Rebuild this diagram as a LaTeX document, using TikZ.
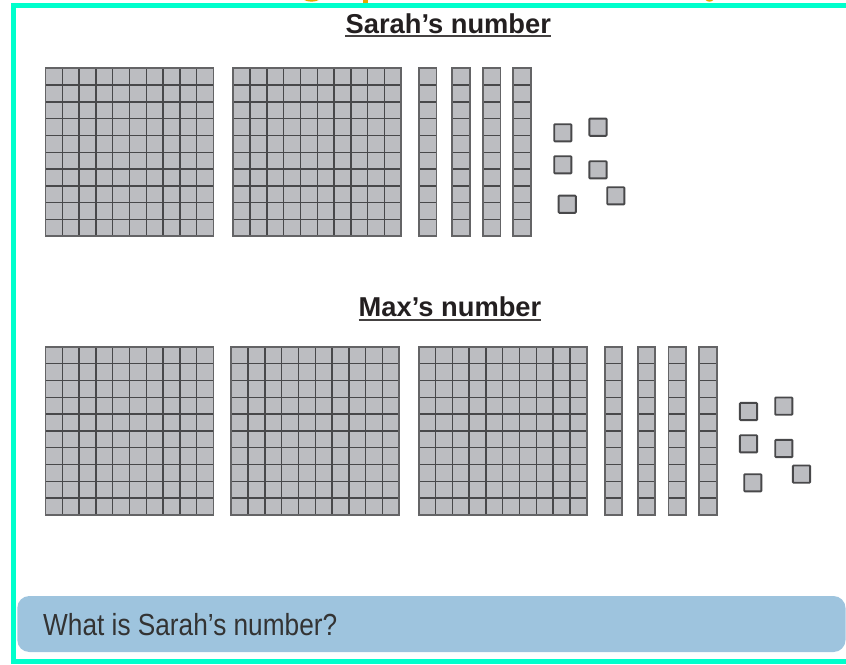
\documentclass[tikz,border=0pt]{standalone}
\usepackage{fontspec}
\setmainfont{Liberation Sans}
\usepackage{graphicx}
\definecolor{framecyan}{RGB}{0,255,204}
\definecolor{cubefillc}{RGB}{188,189,193}
\definecolor{gridc}{RGB}{72,72,74}
\definecolor{edgec}{RGB}{100,100,102}
\definecolor{barblue}{RGB}{158,196,222}
\definecolor{titlec}{RGB}{35,31,32}
\definecolor{gold}{RGB}{232,168,0}
\tikzset{
  cubefill/.style={fill=cubefillc},
  gridline/.style={draw=gridc,line width=1.4pt},
  outline/.style={draw=edgec,line width=1.8pt},
  onecube/.style={fill=cubefillc,draw=gridc,line width=1.9pt,rounded corners=0.8pt},
  titletext/.style={inner sep=0pt,anchor=base,text=titlec,font=\fontsize{27.3}{30}\selectfont\bfseries},
  ulinestyle/.style={draw=titlec!85,line width=1.8pt},
  hundredblk/.pic={
    \fill[cubefill] (0,0) rectangle (168,168);
    \foreach \i in {1,...,9} {
      \draw[gridline] (\i*16.8,0) -- (\i*16.8,168);
      \draw[gridline] (0,\i*16.8) -- (168,\i*16.8);
    }
    \draw[outline] (0,0) rectangle (168,168);
  },
  tenrod/.pic={
    \fill[cubefill] (0,0) rectangle (17.4,168);
    \foreach \i in {1,...,9} {
      \draw[gridline] (0,\i*16.8) -- (17.4,\i*16.8);
    }
    \draw[outline] (0,0) rectangle (17.4,168);
  },
  oneblk/.pic={
    \draw[onecube] (0,0) rectangle (17.2,17.2);
  }
}
\begin{document}
\begin{tikzpicture}[x=1pt,y=-1pt]
\useasboundingbox (0,0) rectangle (846,664);
\begin{scope}
\clip (0,0) rectangle (846,664);
% cut-off yellow title glyphs at the top edge
\fill[gold] (311.5,-5.5) ellipse [x radius=11.5, y radius=7.2];
\fill[gold] (363,-5) rectangle (367.5,2.6);
\fill[gold] (709.5,-5) ellipse [x radius=5.8, y radius=6.7];
% frame
\draw[framecyan,line width=5pt] (11,5.8) -- (846,5.8);
\draw[framecyan,line width=5.5pt] (13.7,3.3) -- (13.7,664);
\draw[framecyan,line width=5pt] (11,661.3) -- (846,661.3);
% question bar
\fill[barblue,rounded corners=12pt] (17.3,596) rectangle (845.5,652);
\end{scope}
\node[inner sep=0pt,anchor=base west,text=black!80] (q) at (43,635)
  {\scalebox{0.86}[1]{\fontsize{30.5}{32}\selectfont What is Sarah’s number?}};

% Sarah's number
\node[titletext] (t1) at (448.3,33.3) {Sarah’s number};
\draw[ulinestyle] ([yshift=-3pt]t1.base west) -- ([yshift=-3pt]t1.base east);
\pic at (45.5,68.3) {hundredblk};
\pic at (233.3,68.3) {hundredblk};
\foreach \x in {419,452.3,483,513.3} { \pic at (\x,68.3) {tenrod}; }
\foreach \x/\y in {554.2/124.2,589.4/118.6,554.2/156.2,589.4/161.2,558.6/195.6,607.2/187.2} {
  \pic at (\x,\y) {oneblk};
}

% Max's number
\node[titletext] (t2) at (450,316.9) {Max’s number};
\draw[ulinestyle] ([yshift=-3pt]t2.base west) -- ([yshift=-3pt]t2.base east);
\pic at (45.5,346.8) {hundredblk};
\pic at (231.2,346.8) {hundredblk};
\pic at (418.7,346.8) {hundredblk};
\foreach \x in {604.8,637.8,668.5,699.2} { \pic at (\x,346.8) {tenrod}; }
\foreach \x/\y in {739.9/402.9,775.2/397.5,739.9/435.2,775.2/439.9,744.2/474.2,792.9/465.5} {
  \pic at (\x,\y) {oneblk};
}
\end{tikzpicture}
\end{document}
